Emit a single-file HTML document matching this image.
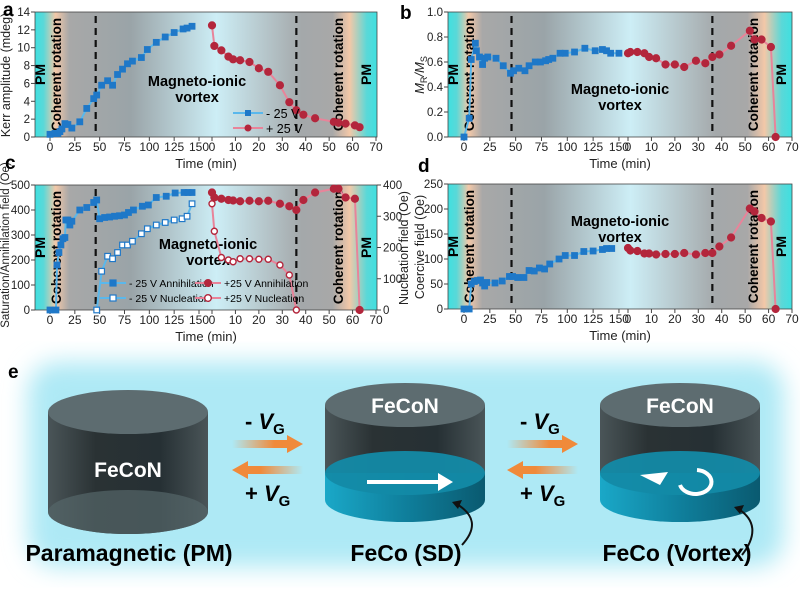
<!DOCTYPE html>
<html><head><meta charset="utf-8"><style>
body{margin:0;background:#fff;width:800px;height:592px;overflow:hidden}
svg{display:block;font-family:"Liberation Sans",sans-serif}
</style></head><body>
<svg id="s" width="800" height="592" xmlns="http://www.w3.org/2000/svg">
<defs>
<linearGradient id="bg" x1="0" x2="1" y1="0" y2="0">
<stop offset="0" stop-color="#3fe0e0"/><stop offset="0.025" stop-color="#5ad8d8"/>
<stop offset="0.06" stop-color="#f3c8a8"/><stop offset="0.1" stop-color="#a8a8a8"/>
<stop offset="0.28" stop-color="#9aa4a8"/><stop offset="0.53" stop-color="#cdeef6"/>
<stop offset="0.78" stop-color="#a4a8aa"/><stop offset="0.87" stop-color="#a8a8a8"/>
<stop offset="0.92" stop-color="#f3c8a8"/><stop offset="0.97" stop-color="#5ad8d8"/>
<stop offset="1" stop-color="#3fe0e0"/>
</linearGradient>
<linearGradient id="cyl" x1="0" x2="1"><stop offset="0" stop-color="#4a5558"/><stop offset="0.3" stop-color="#2a3234"/><stop offset="0.7" stop-color="#263034"/><stop offset="1" stop-color="#4a5558"/></linearGradient>
<linearGradient id="disk" x1="0" x2="1"><stop offset="0" stop-color="#1aa8c8"/><stop offset="0.5" stop-color="#0f7f9c"/><stop offset="1" stop-color="#0a5a70"/></linearGradient>
<linearGradient id="arR" x1="0" x2="1"><stop offset="0" stop-color="#f08a3a" stop-opacity="0"/><stop offset="0.6" stop-color="#f08a3a"/></linearGradient>
<linearGradient id="arL" x1="1" x2="0"><stop offset="0" stop-color="#f08a3a" stop-opacity="0"/><stop offset="0.6" stop-color="#f08a3a"/></linearGradient>
<filter id="bl"><feGaussianBlur stdDeviation="12"/></filter>
</defs>
<g id="plots"></g>
<rect x="28" y="362" width="756" height="205" rx="30" fill="#aee9f5" filter="url(#bl)"/>
<text x="8" y="378" font-size="19" font-weight="bold">e</text>
<g id="cyls"></g>
</svg>
<script>
const S=document.getElementById('plots');let h='';
function P(o){
 const X=t=>o.h?o.xr0+o.sr*t:o.xl0+o.sl*t;
 const Y=v=>o.yb-(v-0)/(o.ymax)*(o.yb-o.yt);
 h+=`<rect x="${o.x0}" y="${o.yt}" width="${o.x1-o.x0}" height="${o.yb-o.yt}" fill="url(#bg)"/>`;
 h+=`<rect x="${o.x0}" y="${o.yt}" width="${o.x1-o.x0}" height="${o.yb-o.yt}" fill="none" stroke="#444" stroke-width="0.8"/>`;
 [o.xl0+o.sl*46,o.xr0+o.sr*36].forEach(x=>h+=`<line x1="${x}" x2="${x}" y1="${o.yt+4}" y2="${o.yb-3}" stroke="#111" stroke-width="2.2" stroke-dasharray="7,5"/>`);
 for(let t=0;t<=150;t+=25){let x=o.xl0+o.sl*t;h+=`<line x1="${x}" x2="${x}" y1="${o.yb}" y2="${o.yb+4}" stroke="#444"/><text x="${x}" y="${o.yb+14}" font-size="12" text-anchor="middle" fill="#222">${t}</text>`}
 for(let t=0;t<=70;t+=10){let x=o.xr0+o.sr*t;h+=`<line x1="${x}" x2="${x}" y1="${o.yb}" y2="${o.yb+4}" stroke="#444"/><text x="${x}" y="${o.yb+14}" font-size="12" text-anchor="middle" fill="#222">${t}</text>`}
 h+=`<text x="${(o.x0+o.x1)/2}" y="${o.yb+31}" font-size="13" text-anchor="middle" fill="#222">Time (min)</text>`;
 for(const v of o.yt_){let y=Y(v);h+=`<line x1="${o.x0-4}" x2="${o.x0}" y1="${y}" y2="${y}" stroke="#444"/><text x="${o.x0-5}" y="${y+4}" font-size="11.5" text-anchor="end" fill="#222">${o.fmt?v.toFixed(1):v}</text>`}
 const rl=(x,y,s,fs)=>h+=`<text transform="translate(${x},${y}) rotate(-90)" font-size="${fs}" font-weight="bold" text-anchor="middle">${s}</text>`;
 const cy=(o.yt+o.yb)/2;
 rl(o.x0+10,cy,'PM',14);rl(o.x0+26,cy,'Coherent rotation',13.5);
 rl(o.x1-6,cy,'PM',14);rl(o.x1-34,cy,'Coherent rotation',13.5);
 h+=`<text x="${o.mx}" y="${o.my}" font-size="14.5" font-weight="bold" text-anchor="middle">Magneto-ionic</text><text x="${o.mx}" y="${o.my+16}" font-size="14.5" font-weight="bold" text-anchor="middle">vortex</text>`;
 for(const s of o.series){
  o.h=s.r;const pts=s.d.map(p=>[X(p[0]),Y(p[1])]);
  h+=`<polyline points="${pts.map(p=>p.join(',')).join(' ')}" fill="none" stroke="${s.r?'#e8849a':'#5ab8ec'}" stroke-width="2"/>`;
  const c=s.r?'#b3263c':'#1f78c8';
  pts.forEach(p=>{ if(s.r) h+=`<circle cx="${p[0]}" cy="${p[1]}" r="${s.open?3:3.4}" fill="${s.open?'#fff':c}" stroke="${c}" stroke-width="1.4"/>`;
   else h+=`<rect x="${p[0]-2.8}" y="${p[1]-2.8}" width="5.6" height="5.6" fill="${s.open?'#fff':c}" stroke="${c}" stroke-width="1.2"/>`});
 }
 o.h=false;
}
P({x0:35,x1:377,yt:12,yb:137,xl0:50,sl:0.9933,xr0:212,sr:2.343,ymax:14,yt_:[0,2,4,6,8,10,12,14],mx:197,my:86,series:[
{d:[[0,.3],[5,.4],[8,.4],[10,.6],[12,.9],[15,1.5],[18,1.4],[22,1],[30,1.7],[37,3.2],[44,4.3],[47,4.7],[52,5.8],[58,6.3],[63,5.8],[68,7],[73,7.6],[78,8.2],[83,8.5],[92,8.9],[98,9.8],[107,10.6],[116,11.2],[125,11.7],[134,12.1],[138,12.2],[143,12.4]]},
{r:1,d:[[0,12.5],[1,10.2],[4,9.7],[7,9],[9,8.7],[12,8.6],[16,8.4],[20,7.7],[24,7.3],[29,5.8],[33,3.9],[36,3],[39,2.5],[44,2.1],[52,1.7],[54,1.6],[57,1.5],[61,1.3],[63,1.1]]}]});
P({x0:448,x1:792,yt:12,yb:137,xl0:464,sl:1.033,xr0:628,sr:2.343,ymax:1,fmt:1,yt_:[0,.2,.4,.6,.8,1],mx:620,my:94,series:[
{d:[[0,0],[5,.15],[7,.62],[11,.75],[12,.69],[15,.64],[18,.58],[20,.63],[23,.64],[31,.63],[38,.57],[45,.51],[48,.53],[53,.55],[59,.53],[63,.57],[69,.6],[74,.6],[79,.61],[82,.62],[86,.63],[93,.67],[98,.67],[107,.68],[117,.71],[127,.69],[134,.7],[138,.69],[142,.67],[150,.67]]},
{r:1,d:[[0,.67],[1,.68],[4,.68],[7,.67],[9,.64],[12,.63],[16,.58],[20,.58],[24,.56],[29,.61],[33,.59],[36,.64],[39,.66],[44,.73],[52,.85],[54,.78],[57,.78],[61,.72],[63,0]]}]});
P({x0:35,x1:377,yt:185,yb:310,xl0:50,sl:0.9933,xr0:212,sr:2.343,ymax:500,yt_:[0,100,200,300,400,500],mx:208,my:249,series:[
{d:[[0,0],[6,0],[7,180],[9,230],[11,260],[13,285],[15,290],[16,360],[18,360],[20,340],[22,355],[30,400],[37,410],[44,430],[47,440],[50,365],[55,370],[60,372],[65,375],[70,377],[75,380],[79,390],[84,400],[93,415],[99,420],[107,450],[117,455],[126,468],[135,470],[139,470],[143,470]]},
{open:1,d:[[47,0],[52,155],[58,215],[63,205],[68,230],[73,260],[78,260],[83,275],[92,305],[98,325],[107,340],[116,350],[125,360],[133,365],[138,375],[143,425]]},
{r:1,d:[[0,470],[1,450],[4,445],[7,440],[9,438],[12,435],[16,437],[20,435],[24,437],[29,425],[33,415],[36,400],[39,440],[44,470],[52,485],[54,485],[57,450],[61,445],[63,0]]},
{r:1,open:1,d:[[0,425],[1,315],[4,210],[7,200],[9,193],[12,205],[16,205],[20,203],[24,203],[29,180],[33,140],[36,0]]}]});
P({x0:448,x1:792,yt:184,yb:309,xl0:464,sl:1.033,xr0:628,sr:2.343,ymax:250,yt_:[0,50,100,150,200,250],mx:620,my:226,series:[
{d:[[0,0],[5,0],[7,50],[10,55],[13,57],[16,58],[18,52],[20,46],[22,53],[30,52],[37,56],[44,65],[47,65],[52,63],[58,63],[63,77],[68,76],[73,82],[78,80],[83,90],[92,100],[98,107],[107,107],[116,115],[125,116],[134,119],[138,121],[143,121]]},
{r:1,d:[[0,122],[1,117],[4,116],[7,111],[9,111],[12,109],[16,110],[20,110],[24,112],[29,109],[33,112],[36,112],[39,125],[44,143],[52,201],[54,195],[57,182],[61,175],[63,0]]}]});
for(let v=0;v<=400;v+=100){let y=310-v/400*125;h+=`<line x1="377" x2="381" y1="${y}" y2="${y}" stroke="#444"/><text x="383" y="${y+4}" font-size="11.5" fill="#222">${v}</text>`}
const rt=(x,y,s,fs)=>h+=`<text transform="translate(${x},${y}) rotate(-90)" font-size="${fs}" text-anchor="middle" fill="#222">${s}</text>`;
rt(10,75,'Kerr amplitude (mdeg)',12.5);rt(9,245,'Saturation/Annihilation field (Oe)',11.5);
rt(408,248,'Nucleation field (Oe)',12.5);rt(424,247,'Coercive field (Oe)',12.5);
h+=`<text transform="translate(424,75) rotate(-90)" font-size="13" text-anchor="middle" font-style="italic" fill="#222">M<tspan font-size="9" dy="3" font-style="normal">R</tspan><tspan dy="-3">/M</tspan><tspan font-size="9" dy="3" font-style="normal">S</tspan></text>`;
[['a',3,16],['b',400,19],['c',5,169],['d',418,172]].forEach(l=>h+=`<text x="${l[1]}" y="${l[2]}" font-size="19" font-weight="bold">${l[0]}</text>`);
h+=`<line x1="233" x2="263" y1="113" y2="113" stroke="#5ab8ec" stroke-width="2"/><rect x="245" y="110" width="6" height="6" fill="#1f78c8"/><text x="266" y="118" font-size="12.5">- 25 V</text>`;
h+=`<line x1="233" x2="263" y1="128" y2="128" stroke="#e8849a" stroke-width="2"/><circle cx="248" cy="128" r="3.5" fill="#b3263c"/><text x="266" y="133" font-size="12.5">+ 25 V</text>`;
const lg=(x,y,r,open,t)=>{h+=`<line x1="${x}" x2="${x+26}" y1="${y}" y2="${y}" stroke="${r?'#e8849a':'#5ab8ec'}" stroke-width="2"/>`;const c=r?'#b3263c':'#1f78c8';h+=r?`<circle cx="${x+13}" cy="${y}" r="3.3" fill="${open?'#fff':c}" stroke="${c}" stroke-width="1.4"/>`:`<rect x="${x+10}" y="${y-3}" width="6" height="6" fill="${open?'#fff':c}" stroke="${c}" stroke-width="1.2"/>`;h+=`<text x="${x+29}" y="${y+4}" font-size="10.5">${t}</text>`};
lg(100,283,0,0,'- 25 V Annihilation');lg(100,298,0,1,'- 25 V Nucleation');lg(195,283,1,0,'+25 V Annihilation');lg(195,298,1,1,'+25 V Nucleation');
S.innerHTML=h;
let g='';
function cyl(cx,top,disk,ltop){
 const rx=80,ry=22,bot=512;
 if(disk){
  g+=`<path d="M${cx-rx},${top} L${cx-rx},473 A${rx},${ry} 0 0 0 ${cx+rx},473 L${cx+rx},${top} Z" fill="url(#cyl)"/>`;
  g+=`<path d="M${cx-rx},473 L${cx-rx},500 A${rx},${ry} 0 0 0 ${cx+rx},500 L${cx+rx},473 Z" fill="url(#disk)"/>`;
  g+=`<ellipse cx="${cx}" cy="473" rx="${rx}" ry="${ry}" fill="#138aa6" opacity="0.95"/>`;
 } else {
  g+=`<path d="M${cx-rx},${top} L${cx-rx},${bot} A${rx},${ry} 0 0 0 ${cx+rx},${bot} L${cx+rx},${top} Z" fill="url(#cyl)"/>`;
  g+=`<path d="M${cx-rx},${bot} A${rx},${ry} 0 0 1 ${cx+rx},${bot} A${rx},${ry} 0 0 1 ${cx-rx},${bot}" fill="#55666a" opacity="0.7"/>`;
 }
 g+=`<ellipse cx="${cx}" cy="${top}" rx="${rx}" ry="${ry}" fill="#5d6c70"/>`;
 g+=`<text x="${cx}" y="${ltop}" font-size="21" font-weight="bold" fill="#fff" text-anchor="middle">FeCoN</text>`;
}
cyl(128,412,0,477);cyl(405,405,1,413);cyl(680,405,1,413);
g+=`<path d="M367,480 L438,480 L438,473 L453,482 L438,491 L438,484 L367,484Z" fill="#fff"/>`;
g+=`<path d="M697,470 A16,12 0 1 1 680,485" fill="none" stroke="#fff" stroke-width="4"/><path d="M640,475 L668,472 L660,485Z" fill="#fff"/>`;
function arrows(x){
 g+=`<path d="M${x},440 L${x+55},440 L${x+55},435 L${x+71},444 L${x+55},453 L${x+55},448 L${x},448Z" fill="url(#arR)"/>`;
 g+=`<path d="M${x+71},466 L${x+16},466 L${x+16},461 L${x},470 L${x+16},479 L${x+16},474 L${x+71},474Z" fill="url(#arL)"/>`;
 g+=`<text x="${x+13}" y="429" font-size="22" font-weight="bold">- <tspan font-style="italic">V</tspan><tspan font-size="15" dy="5">G</tspan></text>`;
 g+=`<text x="${x+13}" y="501" font-size="22" font-weight="bold">+ <tspan font-style="italic">V</tspan><tspan font-size="15" dy="5">G</tspan></text>`;
}
arrows(232);arrows(507);
g+=`<path d="M455,503 Q485,520 462,545" fill="none" stroke="#111" stroke-width="2"/><path d="M452,502 L462,500 L458,509Z" fill="#111"/>`;
g+=`<path d="M737,508 Q765,525 742,555" fill="none" stroke="#111" stroke-width="2"/><path d="M734,507 L744,505 L740,514Z" fill="#111"/>`;
g+=`<text x="129" y="561" font-size="23" font-weight="bold" text-anchor="middle">Paramagnetic (PM)</text>`;
g+=`<text x="406" y="561" font-size="23" font-weight="bold" text-anchor="middle">FeCo (SD)</text>`;
g+=`<text x="677" y="561" font-size="23" font-weight="bold" text-anchor="middle">FeCo (Vortex)</text>`;
document.getElementById('cyls').innerHTML=g;
</script>
</body></html>
